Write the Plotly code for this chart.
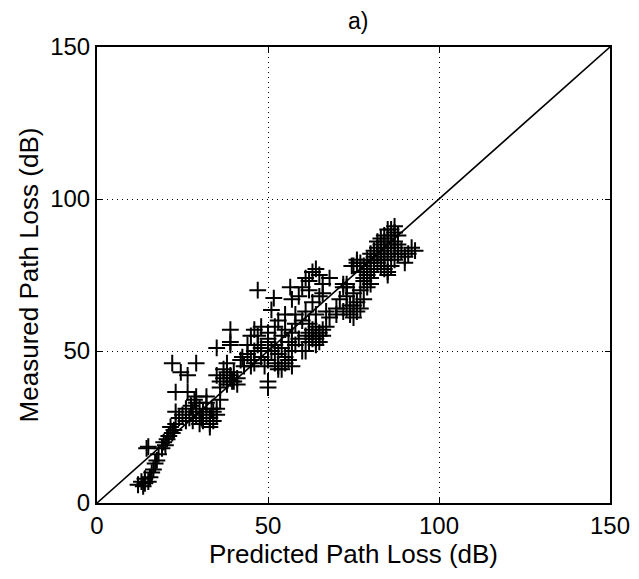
import plotly.graph_objects as go

# Predicted vs measured path loss (dB)
predicted = [
    12, 13, 14, 13.5, 15, 14, 15.5, 16, 16.5, 17, 17.5, 18, 14.5, 15, 19, 20, 19.5, 20.5, 21, 22, 21.5, 22.5, 23,
    23, 24, 25, 26, 26, 27, 27.5, 28, 28, 29, 29, 30, 30.5, 31, 31, 32, 32, 33, 33, 33.5, 34, 34, 35, 33, 30, 28.5, 29, 32, 23, 26.5, 36, 35,
    22, 29, 24.5, 26.5, 35, 39, 38, 35, 36, 37, 38, 39, 40, 36, 38, 40, 41, 37, 39.5, 39, 39, 42, 42.5, 39, 41,
    44, 45, 46, 47, 48, 46, 49, 50, 51, 52, 53, 54, 55, 56, 57, 58, 50, 48, 52, 53, 54, 55, 50, 50, 53, 45, 46, 48, 50, 52, 55, 58, 54, 57, 60, 59, 61,
    47, 51.7, 51, 56.5, 57, 59, 62, 65, 66, 58, 61, 64, 67, 63, 55, 53, 50, 44, 47, 43, 45, 56, 57,
    62, 63, 64, 65, 66, 63, 64, 65, 62, 64, 66, 63, 65, 67, 62, 60, 61,
    62, 63, 64, 65, 61, 60, 66, 68,
    68, 70, 72, 74, 75, 76, 71, 73, 75, 77, 79, 80, 72, 73, 74, 76, 78, 78, 70, 73, 75, 77,
    75, 76, 77, 78, 79, 80, 81, 82, 83, 84, 85, 86, 86, 87, 87, 85, 84, 83, 82, 81, 82, 83, 84, 85, 85, 86, 87, 88, 88, 89,
    90, 91, 92, 93, 90, 80, 81, 79, 78, 77, 83, 84, 85, 86, 87, 80, 81, 82, 84, 86, 87, 88, 85, 83, 79, 80, 74.5, 76, 73, 72,
]
measured = [
    6, 7, 6.5, 5.5, 7, 8, 8.5, 10, 11, 13, 14, 16, 18, 18.5, 18, 19, 20, 21, 22, 23, 25, 24, 26,
    30, 28, 29, 27, 31, 28, 32, 30, 27, 29, 33, 31, 28, 27, 30, 29, 33, 26, 28, 31, 27, 30, 31, 25, 26, 34, 35, 35, 36.5, 36.5, 34, 29,
    46, 46, 43, 42, 51, 52, 46, 42, 40, 41, 43, 42, 40, 38, 39, 43, 41, 44, 40, 57, 53, 47, 48, 41, 39,
    49, 47, 50, 52, 48, 46, 45, 47, 50, 52, 49, 51, 48, 53, 50, 52, 53, 51, 46, 44, 44, 46, 38, 40, 45, 55, 57, 58, 56, 58, 57, 59, 55, 56, 50, 54, 55,
    70, 67.4, 63.5, 71, 67, 68, 70, 68, 69, 62, 63, 62, 63, 66, 62, 60, 54, 52, 55, 45, 45, 47, 45,
    53, 55, 54, 56, 55, 57, 58, 53, 56, 52, 57, 54, 55, 58, 59, 60, 50,
    73, 76, 77, 75, 74, 71, 72, 74,
    61, 62, 63, 62, 61, 63, 67, 68, 69, 70, 71, 72, 72, 71, 65, 66, 67, 73, 64, 64, 65, 64,
    78, 80, 79, 78, 80, 82, 83, 84, 85, 86, 87, 88, 90, 89, 91, 90, 88, 87, 86, 80, 79, 78, 77, 76, 75, 78, 80, 82, 85, 83,
    81, 82, 84, 83, 79, 76, 77, 75, 74, 76, 82, 83, 84, 85, 86, 79, 81, 82, 80, 82, 84, 88, 81, 80, 77, 74, 78, 79, 72, 71,
]

# Reference line y = x
ref_x = [0, 150]
ref_y = [0, 150]

x_ticks = [0, 50, 100, 150]
y_ticks = [0, 50, 100, 150]

FONT = "Liberation Sans, Arial, sans-serif"
TICK_SIZE = 24
TITLE_SIZE = 26

fig = go.Figure()
fig.add_trace(go.Scatter(
    x=ref_x, y=ref_y, mode="lines",
    line=dict(color="black", width=1.6), hoverinfo="skip", showlegend=False,
))
fig.add_trace(go.Scatter(
    x=predicted, y=measured, mode="markers",
    marker=dict(symbol="cross-thin", size=12, color="black",
                line=dict(color="black", width=2)),
    showlegend=False,
))

axis_common = dict(
    range=[0, 150], showline=True, linecolor="black", linewidth=2, mirror="ticks",
    ticks="inside", ticklen=5, tickcolor="black", tickwidth=1,
    showgrid=True, gridcolor="black", gridwidth=1, griddash="1px,4px",
    zeroline=False, tickfont=dict(family=FONT, size=TICK_SIZE, color="black"),
    ticklabeloverflow="allow", automargin=False,
)

fig.update_layout(
    width=631, height=563,
    margin=dict(l=89, r=29, t=39, b=68),
    paper_bgcolor="white", plot_bgcolor="white",
    font=dict(family=FONT, color="black"),
    title=dict(text="a)", x=0.555, xanchor="center", y=0.977, yanchor="middle",
               font=dict(family=FONT, size=23, color="black")),
    xaxis=dict(axis_common, tickvals=x_ticks, ticktext=[str(v) for v in x_ticks],
               title=dict(text="Predicted Path Loss (dB)", standoff=0,
                          font=dict(family=FONT, size=TITLE_SIZE, color="black"))),
    yaxis=dict(axis_common, tickvals=y_ticks, ticktext=[str(v) for v in y_ticks],
               title=dict(text="Measured Path Loss (dB)", standoff=4,
                          font=dict(family=FONT, size=TITLE_SIZE, color="black"))),
)

fig.write_html("out.html")
